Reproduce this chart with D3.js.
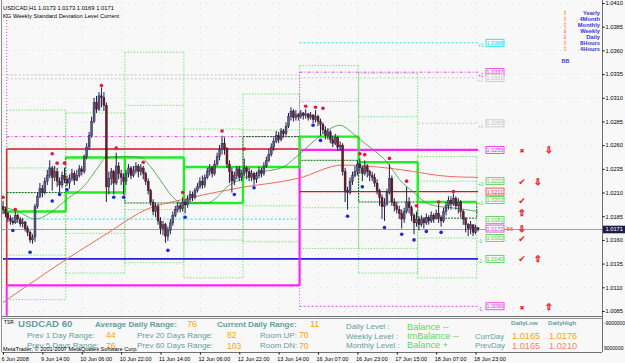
<!DOCTYPE html>
<html><head><meta charset="utf-8">
<script src="https://cdn.jsdelivr.net/npm/d3@7"></script>
<style>
html,body{margin:0;padding:0;background:#f8f8f8;}
svg{display:block;font-family:"Liberation Sans",Arial,sans-serif;}
</style></head><body>
<svg id="c" width="625" height="363"></svg>
<script>
// ---------------- DATA ----------------
const firstOpen = 1.0195;
const closes = [
1.0192,1.0188,1.0183,1.0180,1.0178,1.0186,1.0182,1.0177,1.0179,1.0172,
1.0168,1.0160,1.0163,1.0195,1.0206,1.0214,1.0210,1.0222,1.0228,1.0236,
1.0226,1.0232,1.0222,1.0218,1.0228,1.0224,1.0220,1.0225,1.0230,1.0223,
1.0228,1.0235,1.0232,1.0248,1.0258,1.0270,1.0285,1.0305,1.0298,1.0312,
1.0310,1.0302,1.0216,1.0225,1.0232,1.0220,1.0238,1.0230,1.0226,1.0222,
1.0230,1.0236,1.0228,1.0233,1.0238,1.0232,1.0236,1.0230,1.0222,1.0212,
1.0200,1.0190,1.0195,1.0180,1.0172,1.0176,1.0164,1.0170,1.0178,1.0186,
1.0192,1.0196,1.0193,1.0200,1.0197,1.0203,1.0208,1.0205,1.0212,1.0216,
1.0222,1.0218,1.0226,1.0232,1.0236,1.0230,1.0240,1.0248,1.0255,1.0262,
1.0256,1.0240,1.0232,1.0222,1.0228,1.0235,1.0226,1.0230,1.0236,1.0232,
1.0226,1.0230,1.0224,1.0228,1.0233,1.0230,1.0238,1.0244,1.0250,1.0258,
1.0264,1.0270,1.0266,1.0275,1.0272,1.0280,1.0290,1.0296,1.0289,1.0292,
1.0290,1.0294,1.0291,1.0293,1.0289,1.0292,1.0287,1.0290,1.0285,1.0282,
1.0276,1.0270,1.0274,1.0266,1.0262,1.0268,1.0258,1.0260,1.0232,1.0212,
1.0210,1.0222,1.0228,1.0232,1.0240,1.0236,1.0230,1.0238,1.0232,1.0228,
1.0226,1.0220,1.0212,1.0205,1.0195,1.0198,1.0210,1.0225,1.0200,1.0196,
1.0192,1.0188,1.0182,1.0190,1.0200,1.0194,1.0186,1.0178,1.0182,1.0176,
1.0182,1.0178,1.0184,1.0180,1.0186,1.0182,1.0188,1.0184,1.0180,1.0190,
1.0196,1.0202,1.0198,1.0204,1.0196,1.0200,1.0190,1.0182,1.0176,1.0172,
1.0176,1.0168,1.0173,1.0171];
const highs = [
1.0201,1.0195,1.0190,1.0186,1.0184,1.0190,1.0188,1.0184,1.0183,1.0180,
1.0175,1.0170,1.0166,1.0198,1.0210,1.0220,1.0218,1.0226,1.0234,1.0244,
1.0238,1.0238,1.0236,1.0226,1.0232,1.0236,1.0228,1.0229,1.0235,1.0233,
1.0234,1.0239,1.0238,1.0250,1.0262,1.0274,1.0290,1.0310,1.0312,1.0316,
1.0321,1.0316,1.0305,1.0232,1.0236,1.0234,1.0252,1.0242,1.0234,1.0230,
1.0234,1.0240,1.0238,1.0238,1.0242,1.0240,1.0240,1.0238,1.0232,1.0225,
1.0214,1.0203,1.0199,1.0198,1.0184,1.0180,1.0178,1.0174,1.0182,1.0190,
1.0196,1.0200,1.0199,1.0205,1.0203,1.0207,1.0212,1.0211,1.0215,1.0220,
1.0226,1.0228,1.0229,1.0236,1.0240,1.0238,1.0244,1.0252,1.0260,1.0270,
1.0268,1.0258,1.0244,1.0236,1.0232,1.0238,1.0238,1.0234,1.0246,1.0238,
1.0236,1.0234,1.0232,1.0232,1.0237,1.0236,1.0242,1.0248,1.0256,1.0262,
1.0268,1.0275,1.0274,1.0278,1.0277,1.0284,1.0294,1.0300,1.0298,1.0297,
1.0294,1.0297,1.0295,1.0298,1.0294,1.0295,1.0292,1.0297,1.0292,1.0288,
1.0284,1.0280,1.0278,1.0276,1.0270,1.0272,1.0270,1.0264,1.0262,1.0236,
1.0216,1.0226,1.0232,1.0238,1.0244,1.0246,1.0238,1.0244,1.0240,1.0234,
1.0232,1.0230,1.0224,1.0214,1.0208,1.0204,1.0214,1.0240,1.0228,1.0204,
1.0200,1.0196,1.0192,1.0194,1.0216,1.0205,1.0196,1.0188,1.0190,1.0185,
1.0186,1.0184,1.0188,1.0186,1.0190,1.0188,1.0192,1.0198,1.0186,1.0194,
1.0200,1.0206,1.0206,1.0209,1.0206,1.0204,1.0202,1.0192,1.0184,1.0178,
1.0180,1.0176,1.0176,1.0173];
const lows = [
1.0187,1.0184,1.0179,1.0176,1.0176,1.0177,1.0178,1.0174,1.0173,1.0169,
1.0164,1.0157,1.0156,1.0158,1.0193,1.0204,1.0205,1.0208,1.0218,1.0225,
1.0212,1.0222,1.0216,1.0210,1.0215,1.0220,1.0217,1.0214,1.0222,1.0218,
1.0222,1.0226,1.0228,1.0230,1.0245,1.0255,1.0268,1.0283,1.0294,1.0296,
1.0300,1.0296,1.0200,1.0208,1.0218,1.0208,1.0218,1.0224,1.0218,1.0208,
1.0218,1.0226,1.0224,1.0226,1.0230,1.0226,1.0228,1.0224,1.0218,1.0208,
1.0196,1.0186,1.0184,1.0176,1.0166,1.0165,1.0157,1.0159,1.0166,1.0175,
1.0184,1.0189,1.0189,1.0190,1.0188,1.0194,1.0200,1.0201,1.0203,1.0210,
1.0214,1.0214,1.0215,1.0224,1.0228,1.0226,1.0228,1.0238,1.0244,1.0250,
1.0250,1.0236,1.0220,1.0210,1.0218,1.0224,1.0222,1.0222,1.0227,1.0224,
1.0222,1.0222,1.0218,1.0220,1.0225,1.0226,1.0228,1.0236,1.0242,1.0248,
1.0254,1.0262,1.0262,1.0264,1.0268,1.0270,1.0278,1.0286,1.0285,1.0286,
1.0286,1.0288,1.0287,1.0288,1.0286,1.0287,1.0283,1.0284,1.0280,1.0270,
1.0272,1.0266,1.0266,1.0262,1.0258,1.0260,1.0254,1.0254,1.0228,1.0200,
1.0192,1.0208,1.0218,1.0226,1.0228,1.0230,1.0222,1.0228,1.0226,1.0222,
1.0222,1.0216,1.0208,1.0196,1.0182,1.0180,1.0196,1.0208,1.0196,1.0190,
1.0188,1.0182,1.0172,1.0178,1.0188,1.0188,1.0180,1.0166,1.0174,1.0170,
1.0174,1.0172,1.0176,1.0176,1.0178,1.0178,1.0182,1.0178,1.0174,1.0178,
1.0186,1.0192,1.0192,1.0196,1.0192,1.0188,1.0184,1.0176,1.0168,1.0164,
1.0166,1.0164,1.0166,1.0169];

// moving averages: [bar, price]
const maSlow = [[0,1.0094],[10,1.0112],[26,1.0140],[40,1.0163],[60,1.0194],[72,1.0202],[96,1.0215],
  [120,1.0225],[138,1.0239],[148,1.0238],[162,1.0234],[181,1.0227],[193,1.0226]];
const maFast = [[0,1.0195],[6,1.0190],[13,1.0182],[20,1.0190],[26,1.0203],[33,1.0217],[39,1.0238],[42,1.0247],
  [50,1.0248],[56,1.0247],[60,1.0237],[64,1.0223],[69,1.0205],[73,1.0199],[83,1.0199],[87,1.0205],[91,1.0216],
  [96,1.0223],[104,1.0231],[114,1.0237],[118,1.0245],[122,1.0254],[130,1.0272],[135,1.0280],[137,1.0281],
  [141,1.0275],[145,1.0266],[150,1.0256],[156,1.0242],[161,1.0224],[167,1.0210],[172,1.0199],[178,1.0195],
  [182,1.0194],[193,1.0190]];
const redDots = [[0,1.0205],[5,1.0192],[20,1.0251],[22,1.0241],[25,1.0241],[40,1.0323],[46,1.0257],[57,1.0242],
  [73,1.0210],[89,1.0275],[98,1.0256],[123,1.0301],[127,1.0300],[130,1.0299],[145,1.0251],[147,1.0250],
  [157,1.0246],[164,1.0222],[168,1.0196],[177,1.0200],[183,1.0211]];
const blueDots = [[4,1.0170],[11,1.0147],[20,1.0201],[23,1.0208],[26,1.0213],[45,1.0205],[49,1.0205],[67,1.0149],
  [74,1.0184],[94,1.0208],[102,1.0215],[126,1.0281],[129,1.0265],[140,1.0185],[146,1.0216],[155,1.0173],
  [162,1.0166],[167,1.0160],[172,1.0169],[178,1.0168]];

// day structure
const dayBounds = [1.5,25.5,49.5,73.5,97.5,120.5,144.5,168.5,192.5];
const dayLime  = [1.0190,1.0210,1.0247,1.0199,1.0237,1.0269,1.0242,1.0200];
const dayGreen = [1.0210,1.0247,1.0199,1.0237,1.0269,1.0244,1.0200,1.0183];
// dotted deviation bands per day: outer top, inner top, inner bottom, outer bottom
const bandOuterTop = [1.0297,1.0294,1.0358,1.0277,1.0314,1.0344,1.0336,1.0248];
const bandInnerTop = [1.0236,1.0255,1.0302,1.0237,1.0276,1.0306,1.0290,1.0222];
const bandInnerBot = [1.0144,1.0167,1.0192,1.0160,1.0196,1.0194,1.0151,1.0162];
const bandOuterBot = [1.0097,1.0125,1.0136,1.0120,1.0158,1.0151,1.0125,1.0120];

// weekly levels
const weekBounds = [1.5,120.5,193];
const wkRedThick = [1.0256,null];
const wkMagThick = [1.0112,1.0255];
const wkRedThin = [null,1.0211];
const wkCyan = [1.0182,1.0368];
const wkPinkHi = [1.0269,1.0337];
const wkPinkLo = [null,1.0090];
const blueLevel = 1.0140;
const grayLevels = [1.0331,1.0283];

const levelLabels = [
 {p:1.0368,t:"1.0368",c:"#00e0e8",tag:"+3"},
 {p:1.0337,t:"1.0337",c:"#ee22ee",tag:"+1"},
 {p:1.0331,t:"1.0331",c:"#c0c0c0",tag:"+1"},
 {p:1.0283,t:"1.0283",c:"#c0c0c0",tag:"+1"},
 {p:1.0255,t:"1.0255",c:"#ee22ee",tag:""},
 {p:1.0222,t:"1.0222",c:"#44d044",tag:"+2"},
 {p:1.0211,t:"1.0211",c:"#ee3333",tag:""},
 {p:1.0202,t:"1.0202",c:"#44d044",tag:"+1"},
 {p:1.0181,t:"1.0181",c:"#44d044",tag:""},
 {p:1.0172,t:"1.0172",c:"#cc44cc",tag:""},
 {p:1.0162,t:"1.0162",c:"#44d044",tag:"-1"},
 {p:1.0140,t:"1.0140",c:"#44d044",tag:"-2"},
 {p:1.0090,t:"1.0090",c:"#ee22ee",tag:"-1"}];
const marks = [
 {p:1.0255,g:"✖",col:0},{p:1.0255,g:"⇩",col:2},
 {p:1.0222,g:"✔",col:0},{p:1.0222,g:"⇩",col:1},
 {p:1.0202,g:"✔",col:0},
 {p:1.0189,g:"⇧",col:0},
 {p:1.0172,g:"⇩",col:0},
 {p:1.0162,g:"✔",col:0},
 {p:1.0140,g:"✔",col:0},{p:1.0140,g:"⇧",col:1},
 {p:1.0090,g:"✖",col:0},{p:1.0090,g:"⇧",col:2}];

const priceTicks = [1.0085,1.0110,1.0135,1.0160,1.0185,1.0210,1.0235,1.0260,1.0285,1.0310,1.0335,1.0360,1.0385,1.0410];
const timeTickBars = [0,16,32,48,64,80,96,112,128,144,160,176,192];
const timeTickLabels = ["6 Jun 2008","9 Jun 14:00","10 Jun 06:00","10 Jun 22:00","11 Jun 14:00","12 Jun 06:00",
 "12 Jun 22:00","13 Jun 14:00","16 Jun 07:00","16 Jun 23:00","17 Jun 15:00","18 Jun 07:00","18 Jun 23:00"];
const legendNames = ["Yearly","4Month","Monthly","Weekly","Daily","8Hours","4Hours"];
const legendColors = ["#f0a030","#f0a030","#f0a030","#ff3030","#ff3030","#f0a030","#f0a030"];
const legendGlyphs = ["⇕","⇕","⇕","⇩","⇩","⇕","⇕"];
const lastPrice = 1.0171;

// ---------------- DRAW ----------------
const svg = d3.select("#c");
const L=2, R=602, T=2, B=316;
const x = d3.scaleLinear().domain([0,193]).range([3,478]);
const y = d3.scaleLinear().domain([1.0085,1.0410]).range([311,3]);

svg.append("rect").attr("x",0).attr("y",0).attr("width",625).attr("height",363).attr("fill","#f8f8f8");

// grid
const grid = svg.append("g").attr("stroke","#cfcfcf").attr("stroke-width",0.6).attr("stroke-dasharray","1,5");
priceTicks.forEach(p=>grid.append("line").attr("x1",L).attr("x2",R).attr("y1",Math.round(y(p))+0.5).attr("y2",Math.round(y(p))+0.5));
timeTickBars.forEach(b=>grid.append("line").attr("x1",Math.round(x(b))+0.5).attr("x2",Math.round(x(b))+0.5).attr("y1",T).attr("y2",B));

svg.append("defs").append("clipPath").attr("id","pc").append("rect").attr("x",L).attr("y",T).attr("width",R-L).attr("height",B-T);
const P = svg.append("g").attr("clip-path","url(#pc)");

function hline(par,b0,b1,p,col,w,dash){
  if(p==null) return;
  const l = par.append("line").attr("x1",x(b0)).attr("x2",x(b1)).attr("y1",y(p)).attr("y2",y(p))
    .attr("stroke",col).attr("stroke-width",w);
  if(dash) l.attr("stroke-dasharray",dash);
}
function vline(par,b,p0,p1,col,w,dash){
  const l = par.append("line").attr("x1",x(b)).attr("x2",x(b)).attr("y1",y(p0)).attr("y2",y(p1))
    .attr("stroke",col).attr("stroke-width",w);
  if(dash) l.attr("stroke-dasharray",dash);
}

// dotted deviation bands
const bandCol = "#66dd66";
for(let d=0; d<8; d++){
  const b0=dayBounds[d], b1=dayBounds[d+1];
  [bandOuterTop[d],bandInnerTop[d],bandInnerBot[d],bandOuterBot[d]].forEach(p=>hline(P,b0,b1,p,bandCol,0.8,"1.5,1.5"));
  vline(P,b1,bandOuterTop[d],bandOuterBot[d],bandCol,0.8,"1.5,1.5");
  vline(P,b0,bandOuterTop[d],bandOuterBot[d],bandCol,0.8,"1.5,1.5");
}
// gray dashed levels
hline(P,1.5,120.5,1.0334,"#c8c8c8",1,"2,2");
hline(P,1.5,120.5,1.0330,"#c8c8c8",1,"2,2");
hline(P,120.5,193,grayLevels[0],"#c8c8c8",1,"2,2");
hline(P,168.5,193,grayLevels[1],"#c8c8c8",1,"2,2");

// weekly separators (pink dotted)
P.append("line").attr("x1",x(weekBounds[0])).attr("x2",x(weekBounds[0])).attr("y1",14).attr("y2",y(wkRedThick[0]))
  .attr("stroke","#ee44ee").attr("stroke-width",1).attr("stroke-dasharray","1,2");
vline(P,weekBounds[1],wkPinkHi[1],1.0085,"#ee44ee",1,"1,2");

// weekly lines
for(let w=0; w<2; w++){
  const b0=weekBounds[w], b1=weekBounds[w+1];
  hline(P,b0,b1,wkCyan[w],"#22e0e8",1,"2,2");
  hline(P,b0,b1,wkPinkHi[w],"#ee44ee",1,"3,2,1,2");
  hline(P,b0,b1,wkPinkLo[w],"#ee44ee",1,"2,2");
}
hline(P,0,193,blueLevel,"#2020dd",1.6);
hline(P,weekBounds[0],weekBounds[1],wkRedThick[0],"#dd1030",1.6);
vline(P,weekBounds[0],wkRedThick[0],wkMagThick[0],"#ee2030",1.6);
hline(P,weekBounds[0],weekBounds[1],wkMagThick[0],"#ff22ff",2.2);
vline(P,weekBounds[1],wkMagThick[1],wkMagThick[0],"#ff22ff",2.2);
vline(P,weekBounds[0],wkMagThick[0],1.0080,"#ff22ff",2);
hline(P,weekBounds[1],weekBounds[2],wkMagThick[1],"#ff22ff",2.2);
hline(P,weekBounds[1],weekBounds[2],wkRedThin[1],"#c81e1e",1.2);

// day boxes: dark green rect + lime steps
for(let d=0; d<8; d++){
  const b0=dayBounds[d], b1=dayBounds[d+1];
  P.append("rect").attr("x",x(b0)).attr("width",x(b1)-x(b0))
    .attr("y",y(Math.max(dayLime[d],dayGreen[d]))).attr("height",Math.abs(y(dayLime[d])-y(dayGreen[d])))
    .attr("fill","none").attr("stroke","#0b6e0b").attr("stroke-width",1).attr("stroke-dasharray","2,1");
}
const limeG = P.append("g");
hline(limeG,0,dayBounds[0],dayLime[0],"#22ee22",2.4);
for(let d=0; d<8; d++){
  hline(limeG,dayBounds[d],dayBounds[d+1],dayLime[d],"#22ee22",2.4);
  if(d<7) vline(limeG,dayBounds[d+1],dayLime[d],dayLime[d+1],"#22ee22",2.4);
}
hline(limeG,dayBounds[3],dayBounds[4],dayGreen[3],"#22ee22",2.4);
hline(limeG,dayBounds[1],dayBounds[2],dayGreen[1],"#22ee22",2.4);

// MAs
const ln = d3.line().x(d=>x(d[0])).y(d=>y(d[1])).curve(d3.curveMonotoneX);
P.append("path").attr("d",ln(maSlow)).attr("fill","none").attr("stroke","#f26a5a").attr("stroke-width",1);
P.append("path").attr("d",ln(maFast)).attr("fill","none").attr("stroke","#3a9a3a").attr("stroke-width",0.8);

// current price line
P.append("line").attr("x1",L).attr("x2",R).attr("y1",y(lastPrice)).attr("y2",y(lastPrice)).attr("stroke","#a0a0a0").attr("stroke-width",1);

// candles
const bars = closes.map((c,i)=>({i,o:i===0?firstOpen:closes[i-1],h:highs[i],l:lows[i],c}));
const cg = P.append("g");
bars.forEach(b=>{
  const hi=Math.max(b.h,b.o,b.c), lo=Math.min(b.l,b.o,b.c);
  cg.append("line").attr("x1",x(b.i)).attr("x2",x(b.i)).attr("y1",y(hi)).attr("y2",y(lo)).attr("stroke","#1e1e46").attr("stroke-width",1);
  const top=y(Math.max(b.o,b.c)), bot=y(Math.min(b.o,b.c));
  cg.append("rect").attr("x",x(b.i)-1).attr("width",2).attr("y",top).attr("height",Math.max(0.8,bot-top))
    .attr("fill", b.c>=b.o? "#5a5a80":"#7a1414").attr("stroke","#1e1e46").attr("stroke-width",0.4);
});
// dots
redDots.forEach(d=>P.append("circle").attr("cx",x(d[0])).attr("cy",y(d[1])).attr("r",1.8).attr("fill","#ee1040"));
blueDots.forEach(d=>P.append("circle").attr("cx",x(d[0])).attr("cy",y(d[1])).attr("r",1.8).attr("fill","#1a2ad8"));

// level labels
levelLabels.forEach(l=>{
  const yy=y(l.p);
  svg.append("rect").attr("x",486).attr("y",yy-3.5).attr("width",18).attr("height",7).attr("fill","#f8f8f8").attr("stroke",l.c).attr("stroke-width",0.8);
  svg.append("text").attr("x",495).attr("y",yy+2).attr("text-anchor","middle").attr("font-size",5.5).attr("fill",l.c).text(l.t);
  if(l.tag) svg.append("text").attr("x",478).attr("y",yy+4.5).attr("font-size",4.5).attr("fill",l.c).text(l.tag);
});
svg.append("text").attr("x",505).attr("y",y(1.0172)+2).attr("font-size",5.5).attr("fill","#ee4444").text("-56");

// check marks and arrows
const colX=[522,538,549];
marks.forEach(m=>{
  const arrow = (m.g==="⇩"||m.g==="⇧");
  svg.append("text").attr("x",colX[m.col]).attr("y",y(m.p)+3.5).attr("text-anchor","middle")
    .attr("font-family","DejaVu Sans").attr("font-size",m.g==="✖"?6:9).attr("fill",arrow?"none":"#ee2020")
    .attr("stroke",arrow?"#ee2020":"none").attr("stroke-width",0.6).text(m.g);
});

// legend
legendNames.forEach((n,k)=>{
  const yy = 14.5 + k*6.05;
  svg.append("text").attr("x",600).attr("y",yy).attr("text-anchor","end").attr("font-size",5.8).attr("font-weight","bold").attr("fill","#3a3adc").text(n);
  svg.append("text").attr("x",565).attr("y",yy+0.5).attr("text-anchor","middle").attr("font-family","DejaVu Sans").attr("font-size",6).attr("fill",legendColors[k]).text(legendGlyphs[k]);
});
svg.append("text").attr("x",565.5).attr("y",63).attr("text-anchor","middle").attr("font-size",5.5).attr("font-weight","bold").attr("fill","#4040cc").text("BB");

// title
svg.append("text").attr("x",3).attr("y",10).attr("font-size",5.8).attr("fill","#000").text("USDCAD,H1  1.0173 1.0173 1.0169 1.0171");
svg.append("text").attr("x",3).attr("y",18).attr("font-size",5.8).attr("fill","#000").text("KG Weekly Standard Deviation Level Current");

// frame
svg.append("line").attr("x1",R+0.5).attr("x2",R+0.5).attr("y1",0).attr("y2",352).attr("stroke","#707070");
svg.append("line").attr("x1",L-0.5).attr("x2",L-0.5).attr("y1",0).attr("y2",352).attr("stroke","#909090");
svg.append("line").attr("x1",L).attr("x2",R).attr("y1",B+0.5).attr("y2",B+0.5).attr("stroke","#707070");
svg.append("line").attr("x1",L).attr("x2",R).attr("y1",B+2.5).attr("y2",B+2.5).attr("stroke","#909090");
svg.append("line").attr("x1",L).attr("x2",R).attr("y1",352.5).attr("y2",352.5).attr("stroke","#707070");

// price axis
const yAxis = d3.axisRight(y).tickValues(priceTicks).tickSize(2).tickFormat(d3.format(".4f"));
const ya = svg.append("g").attr("transform",`translate(${R+0.5},0)`).call(yAxis);
ya.select(".domain").remove();
ya.selectAll("text").attr("font-size",5.7).attr("font-family","Liberation Sans").attr("fill","#000").attr("x",3);
ya.selectAll("line").attr("stroke","#000");
svg.append("rect").attr("x",603).attr("y",y(lastPrice)-3.8).attr("width",22).attr("height",7.6).attr("fill","#1c1c48");
svg.append("text").attr("x",605.5).attr("y",y(lastPrice)+2).attr("font-size",5.7).attr("fill","#fff").text(d3.format(".4f")(lastPrice));

// time axis
const xAxis = d3.axisBottom(x).tickValues(timeTickBars).tickSize(2).tickFormat((d,i)=>timeTickLabels[i]);
const xa = svg.append("g").attr("transform",`translate(0,352.5)`).call(xAxis);
xa.select(".domain").remove();
xa.selectAll("text").attr("font-size",5.5).attr("font-family","Liberation Sans").attr("fill","#000").attr("text-anchor","start").attr("dx",-2).attr("y",5);
xa.selectAll("line").attr("stroke","#000");

// sub window texts
const teal="#5f9ea0", orange="#ffa500";
function t(xx,yy,s,size,col,bold){
  const e=svg.append("text").attr("x",xx).attr("y",yy).attr("font-size",size).attr("fill",col).text(s);
  if(bold) e.attr("font-weight","bold");
  return e;
}
t(604,325,"-9000000",5,"#000");
t(604,350,"9000000",5,"#000");
t(4,324,"TSR",4.8,"#000");
t(18,327,"USDCAD 60",9.6,teal,true);
t(95,326.5,"Average Daily Range:",8,teal,true);
t(187,327,"76",9,orange);
t(217,326.5,"Current Daily Range:",8,teal,true);
t(310,327,"11",9,orange);
t(27,338,"Prev 1 Day Range:",8,teal);
t(106,338,"44",8.6,orange);
t(137,338,"Prev 20 Days Range:",8,teal);
t(227,338,"82",8.6,orange);
t(260,338,"Room UP:",8,teal);
t(299,338,"70",8.6,orange);
t(27,347.5,"Prev 5 Days Range:",8,teal);
t(106,348.5,"76",8.6,orange);
t(137,348,"Prev 60 Days Range:",8,teal);
t(227,348.5,"103",8.6,orange);
t(260,348,"Room DN:",8,teal);
t(299,348.5,"70",8.6,orange);
t(3,351,"MetaTrader, © 2001-2007 MetaQuotes Software Corp.",5.6,"#000");
t(346,329,"Daily Level      :",8,teal);
t(407,329.5,"Balance --",9.2,"#5ed65e");
t(346,338.5,"Weekly Level :",8,teal);
t(407,339,"ImBalance --",9.2,"#5ed65e");
t(346,347.5,"Monthly Level :",8,teal);
t(407,348,"Balance +",9.2,"#5ed65e");
t(511,324.5,"DailyLow",6.1,teal,true);
t(548,324.5,"DailyHigh",6.1,teal,true);
t(475,338.5,"CurrDay",7.8,teal);
t(475,348,"PrevDay",7.8,teal);
t(512,339,"1.0165",9.2,orange);
t(549,339,"1.0176",9.2,orange);
t(512,348.5,"1.0165",9.2,"#fa8072");
t(549,348.5,"1.0210",9.2,"#fa8072");
</script>
</body></html>
